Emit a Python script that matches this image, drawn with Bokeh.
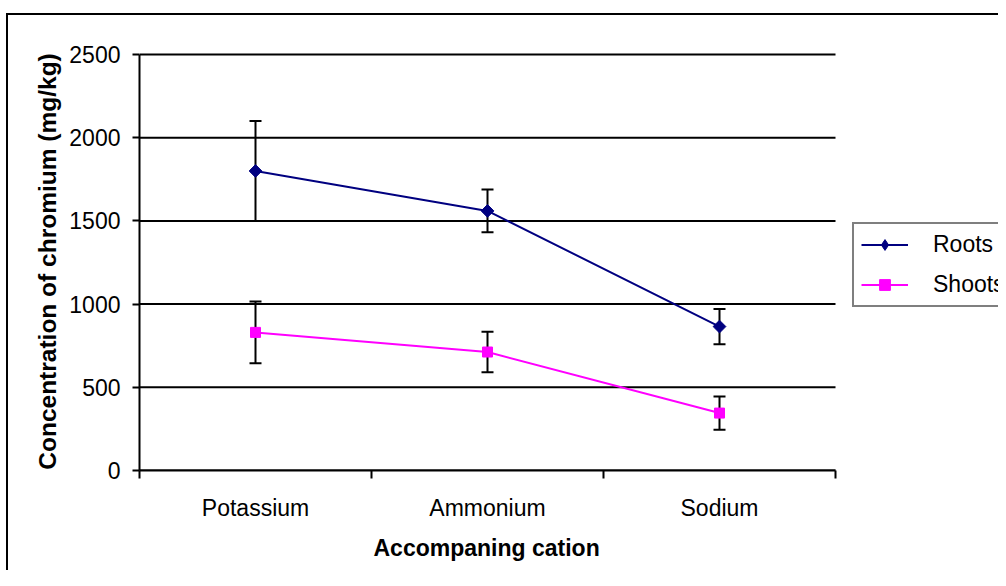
from bokeh.plotting import figure
from bokeh.models import (ColumnDataSource, Range1d, FixedTicker, Whisker, TeeHead,
                          Legend, LegendItem, InlineStyleSheet, Title)
from bokeh.embed import file_html
from bokeh.resources import INLINE

categories = ["Potassium", "Ammonium", "Sodium"]
roots = [1800, 1560, 865]
roots_err = [300, 128, 106]
shoots = [830, 712, 345]
shoots_err = [186, 122, 100]
y_ticks = [0, 500, 1000, 1500, 2000, 2500]
x_title = "Accompaning cation"
y_title = "Concentration of chromium (mg/kg)"

FONT = "Liberation Sans"
n = len(categories)
xs = [i + 0.5 for i in range(n)]
bounds = list(range(n + 1))

src = ColumnDataSource(dict(
    x=xs, roots=roots, shoots=shoots,
    r_up=[v + e for v, e in zip(roots, roots_err)],
    r_lo=[v - e for v, e in zip(roots, roots_err)],
    s_up=[v + e for v, e in zip(shoots, shoots_err)],
    s_lo=[v - e for v, e in zip(shoots, shoots_err)],
))
grid_src = ColumnDataSource(dict(y=y_ticks, x0=[0] * len(y_ticks),
                                 x1=[n] * len(y_ticks)))

# plot area spans 696 px for the categories; frame extends to the right edge
# so the legend (outside the plotted area) is not clipped
p = figure(width=998, height=570, x_range=Range1d(0, n * 859 / 696),
           y_range=Range1d(0, 2512), output_backend="svg", toolbar_location=None,
           min_border_left=139, min_border_right=0, min_border_top=52,
           min_border_bottom=100)
p.outline_line_color = None
p.background_fill_color = "white"
p.border_fill_color = "white"
p.xgrid.grid_line_color = None
p.ygrid.grid_line_color = None

# outer chart frame (top and left edges visible, the rest runs off the page)
p.stylesheets = [InlineStyleSheet(css=(
    ":host { position: relative; }"
    ":host::after { content: ''; position: absolute; left: 6px; top: 13px;"
    " right: 0; bottom: 0; border-left: 2px solid black;"
    " border-top: 2px solid black; pointer-events: none; z-index: 10; }"
))]

# axes
xa = p.xaxis[0]
xa.bounds = (0, n)
xa.ticker = FixedTicker(ticks=xs, minor_ticks=bounds)
xa.major_label_overrides = {x: c for x, c in zip(xs, categories)}
xa.major_tick_line_color = None
xa.major_tick_out = 0
xa.major_tick_in = 0
xa.minor_tick_line_color = "black"
xa.minor_tick_line_width = 2
xa.minor_tick_out = 8
xa.minor_tick_in = 0
xa.axis_line_color = "black"
xa.axis_line_width = 2
xa.major_label_text_font = FONT
xa.major_label_text_font_size = "23px"
xa.major_label_text_color = "black"
xa.major_label_standoff = 16

# x-axis title centred under the plotted categories (not the whole frame)
p.add_layout(Title(text=x_title, align="left", offset=234, vertical_align="bottom",
                   standoff=18, text_font=FONT, text_font_size="23px",
                   text_font_style="bold", text_color="black"), "below")

ya = p.yaxis[0]
ya.bounds = (y_ticks[0], y_ticks[-1])
ya.ticker = FixedTicker(ticks=y_ticks)
ya.minor_tick_line_color = None
ya.major_tick_line_color = "black"
ya.major_tick_line_width = 2
ya.major_tick_out = 7
ya.major_tick_in = 0
ya.axis_line_color = "black"
ya.axis_line_width = 2
ya.major_label_text_font = FONT
ya.major_label_text_font_size = "23px"
ya.major_label_text_color = "black"
ya.major_label_standoff = 12
ya.axis_label = y_title
ya.axis_label_text_font = FONT
ya.axis_label_text_font_size = "24.5px"
ya.axis_label_text_font_style = "bold"
ya.axis_label_text_color = "black"
ya.axis_label_standoff = 5

# horizontal gridlines limited to the plotted area
p.segment(x0="x0", x1="x1", y0="y", y1="y", source=grid_src,
          line_color="black", line_width=2)

# error bars
for up, lo in (("r_up", "r_lo"), ("s_up", "s_lo")):
    w = Whisker(base="x", upper=up, lower=lo, source=src, line_color="black",
                line_width=2,
                upper_head=TeeHead(size=12, line_color="black", line_width=2),
                lower_head=TeeHead(size=12, line_color="black", line_width=2))
    p.add_layout(w)

rl = p.line("x", "roots", source=src, line_color="#000080", line_width=2)
rm = p.scatter("x", "roots", source=src, marker="square", angle=0.785398, size=9,
               fill_color="#000080", line_color="#000080")
r_leg = p.scatter("x", "roots", source=src, marker="diamond", size=14,
                  fill_color="#000080", line_color="#000080", visible=False)
sl = p.line("x", "shoots", source=src, line_color="#FF00FF", line_width=2)
sm = p.scatter("x", "shoots", source=src, marker="square", size=10,
               fill_color="#FF00FF", line_color="#FF00FF")

legend = Legend(items=[LegendItem(label="Roots", renderers=[rl, r_leg]),
                       LegendItem(label="Shoots", renderers=[sl, sm])],
                location=(713, 163))
legend.border_line_color = "black"
legend.border_line_width = 2
legend.background_fill_color = "white"
legend.background_fill_alpha = 1
legend.padding = 7
legend.margin = 0
legend.spacing = 13
legend.glyph_width = 47
legend.glyph_height = 27
legend.label_standoff = 25
legend.label_text_font = FONT
legend.label_text_font_size = "23px"
legend.label_text_color = "black"
p.add_layout(legend)

open("out.html", "w").write(file_html(p, INLINE))
